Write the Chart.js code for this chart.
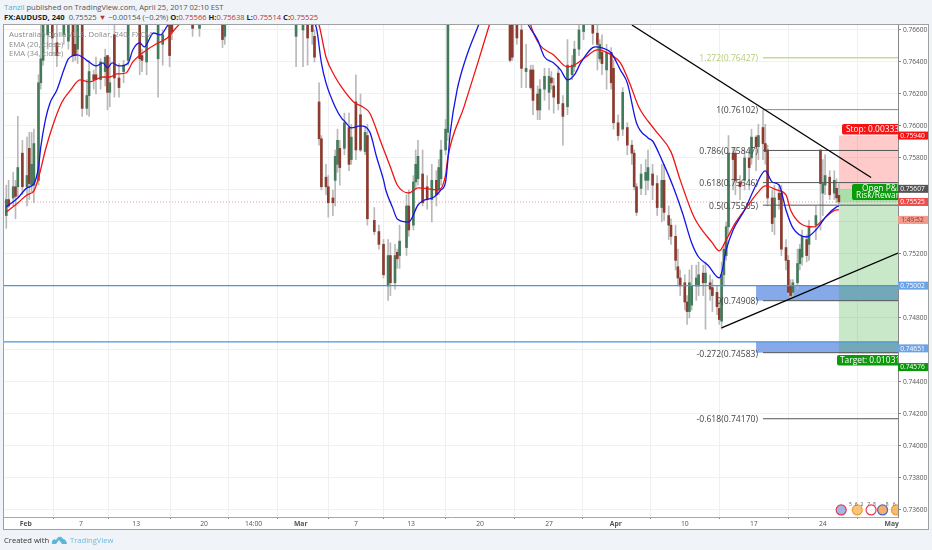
<!DOCTYPE html>
<html>
<head>
<meta charset="utf-8">
<title>AUDUSD 240</title>
<script src="https://cdn.jsdelivr.net/npm/chart.js@4"></script>
<style>
  html, body { margin: 0; padding: 0; background: #f0f3f7; }
  #wrap { position: relative; width: 932px; height: 550px; overflow: hidden; font-family: "Open Sans", "Liberation Sans", sans-serif; }
  #panel { position: absolute; left: 3px; top: 24px; width: 924px; height: 504px; background: #fff; border: 1px solid #a0a0a0; }
  canvas { position: absolute; left: 0; top: 0; }
  .head { position: absolute; left: 4px; white-space: nowrap; font-size: 7.6px; line-height: 10px; color: #555; }
  .head b { color: #222; }
  .head i { font-style: normal; color: #b5343a; }
  #foot { position: absolute; left: 4px; top: 535px; font-size: 7.6px; line-height: 10px; color: #333; white-space: nowrap; }
  #foot span { position: absolute; left: 66px; top: 0; color: #6fb9e0; }
  #foot svg { position: absolute; left: 48px; top: 1px; }
</style>
</head>
<body>
<div id="wrap">
  <div class="head" style="top:2px"><span style="color:#52b0e0">Tanzil</span> published on TradingView.com, April 25, 2017 02:10 EST</div>
  <div class="head" style="top:12px"><b>FX:AUDUSD, 240</b>&nbsp; 0.75525 <i>▼</i> −0.00154 (−0.2%) <b>O:</b><i>0.75566</i> <b>H:</b><i>0.75638</i> <b>L:</b><i>0.75514</i> <b>C:</b><i>0.75525</i></div>
  <div id="panel"></div>
  <canvas id="c" width="932" height="550"></canvas>
  <div id="foot">Created with<svg width="15" height="8" viewBox="0 0 15 8"><path d="M0 8 L0 5 Q2 2 4 4 Q6 0 9 1 Q11 2 11 3 Q14 3 15 8 L10 8 L7 4 L4 8 Z" fill="#5fb4dc"/></svg><span>TradingView</span></div>
</div>
<script>
// 4h candles (bars above the top edge are only partly visible)
const bars = [
  1,2,4,5,6,8,10,11,12,13,15,16,17,19,21,23,26,28,30,31,32,34,36,37,39,40,42,44,45,46,48,50,52,54,59,60,62,67,69,72,73,82,85,95,96,127,130,132,
  134,135,137,138,140,141,143,144,145,146,148,150,151,153,155,157,158,161,163,165,167,168,170,171,172,175,176,178,179,180,182,184,186,188,189,190,192,193,
  220,221,223,225,227,229,230,232,233,235,237,238,239,241,243,245,247,248,250,252,256,258,259,260,262,264,265,267,
  269,271,273,274,275,277,279,280,282,284,286,287,289,290,292,293,294,296,297,298,299,301,302,304,305,307,308,310,311,312,313,314,315,317,318,320,322,324,325,327,328,330,331,332,334,335,337,338,340,341,342,343,345,346,347,349,350,353,355,356,357,359,361,362,363
];
const opens = [
  .7544,.7554,.7555,.7562,.7562,.7583,.7562,.7586,.7563,.7563,.7566,.7627,.7641,.7657,.7667,.7652,.7657,.7653,.7669,.7651,.7648,.7669,.7611,.7619,.7632,.7632,.7629,.7634,.7644,.7621,.7657,.7630,.7634,.7641,.7669,.7644,.7640,.7642,.7651,.7669,.7669,.7669,.7661,.7669,.7656,.7656,.7660,.7669,
  .7669,.7656,.7615,.7592,.7568,.7562,.7555,.7566,.7576,.7586,.7586,.7599,.7579,.7615,.7607,.7584,.7594,.7541,.7534,.7526,.7500,.7519,.7502,.7521,.7519,.7524,.7550,.7538,.7565,.7567,.7570,.7562,.7554,.7566,.7560,.7567,.7585,.7596,
  .7669,.7669,.7669,.7660,.7634,.7635,.7635,.7620,.7610,.7623,.7621,.7630,.7625,.7633,.7614,.7612,.7632,.7637,.7648,.7659,.7669,.7658,.7642,.7646,.7635,.7646,.7636,.7602,
  .7598,.7599,.7588,.7583,.7562,.7561,.7566,.7566,.7570,.7564,.7549,.7566,.7544,.7538,.7531,.7512,.7505,.7502,.7490,.7484,.7488,.7500,.7500,.7508,.7502,.7502,.7499,.7496,.7486,.7478,.7507,.7519,.7537,.7583,.7583,.7565,.7566,.7580,.7580,.7593,.7587,.7599,.7589,.7585,.7555,.7543,.7558,.7558,.7524,.7516,.7500,.7496,.7502,.7514,.7518,.7529,.7526,.7538,.7585,.7558,.7563,.7568,.7558,.7561,.75566
];
const highs = [
  .7563,.7566,.7571,.7566,.7606,.7591,.7593,.7596,.7596,.7598,.7632,.7666,.7673,.7673,.7673,.7669,.7673,.7673,.7673,.7673,.7673,.7673,.7629,.7641,.7635,.7643,.7642,.7648,.7644,.7643,.7669,.7639,.7641,.7673,.7673,.7648,.7673,.7673,.7660,.7673,.7673,.7673,.7673,.7673,.7673,.7673,.7673,.7673,
  .7673,.7660,.7627,.7594,.7576,.7569,.7560,.7585,.7598,.7591,.7608,.7608,.7601,.7632,.7620,.7599,.7601,.7549,.7538,.7529,.7529,.7527,.7526,.7523,.7538,.7557,.7560,.7569,.7585,.7591,.7585,.7569,.7576,.7572,.7579,.7591,.7604,.7673,
  .7673,.7673,.7673,.7673,.7651,.7638,.7638,.7625,.7629,.7636,.7636,.7634,.7630,.7637,.7619,.7654,.7644,.7653,.7666,.7673,.7673,.7666,.7654,.7657,.7651,.7649,.7641,.7607,
  .7624,.7602,.7591,.7585,.7564,.7576,.7579,.7585,.7576,.7569,.7576,.7576,.7550,.7542,.7538,.7523,.7510,.7507,.7494,.7510,.7513,.7513,.7515,.7513,.7515,.7507,.7504,.7500,.7491,.7515,.7526,.7540,.7594,.7586,.7585,.7569,.7585,.7585,.7598,.7594,.7601,.7610,.7601,.7588,.7560,.7563,.7563,.7563,.7529,.7519,.7504,.7504,.7523,.7526,.7535,.7532,.7541,.7550,.7585,.7579,.7582,.7572,.7572,.7567,.75638
];
const lows = [
  .7536,.7549,.7550,.7542,.7555,.7557,.7550,.7554,.7559,.7552,.7563,.7623,.7638,.7648,.7644,.7637,.7651,.7648,.7640,.7641,.7639,.7606,.7607,.7606,.7623,.7620,.7623,.7625,.7610,.7612,.7618,.7618,.7627,.7638,.7632,.7634,.7632,.7618,.7638,.7637,.7654,.7656,.7656,.7649,.7651,.7637,.7637,.7638,
  .7651,.7640,.7588,.7560,.7557,.7543,.7544,.7550,.7571,.7563,.7582,.7572,.7576,.7579,.7584,.7582,.7538,.7532,.7523,.7505,.7491,.7494,.7498,.7511,.7511,.7519,.7531,.7535,.7560,.7563,.7550,.7548,.7540,.7550,.7557,.7563,.7582,.7591,
  .7640,.7641,.7651,.7624,.7624,.7623,.7607,.7604,.7604,.7616,.7610,.7623,.7608,.7610,.7588,.7607,.7629,.7634,.7644,.7654,.7651,.7635,.7640,.7632,.7623,.7623,.7598,.7591,
  .7594,.7582,.7576,.7560,.7544,.7557,.7557,.7560,.7554,.7544,.7540,.7541,.7529,.7526,.7510,.7500,.7494,.7485,.7476,.7480,.7485,.7491,.7494,.7494,.7473,.7491,.7484,.7482,.7476,.7473,.7500,.7516,.7532,.7560,.7557,.7554,.7560,.7560,.7576,.7572,.7579,.7579,.7576,.7550,.7534,.7532,.7548,.7519,.7510,.7494,.7492,.7493,.7498,.7510,.7513,.7515,.7516,.7529,.7535,.7544,.7557,.7554,.7554,.7552,.75514
];
const closes = [
  .7554,.7550,.7562,.7556,.7574,.7562,.7569,.7564,.7576,.7589,.7627,.7642,.7666,.7669,.7655,.7644,.7669,.7663,.7644,.7644,.7669,.7611,.7619,.7634,.7629,.7629,.7640,.7643,.7621,.7627,.7630,.7624,.7638,.7669,.7642,.7641,.7669,.7669,.7657,.7644,.7659,.7661,.7669,.7654,.7669,.7669,.7669,.7655,
  .7659,.7643,.7592,.7562,.7562,.7552,.7552,.7581,.7591,.7574,.7602,.7576,.7593,.7585,.7585,.7596,.7542,.7534,.7526,.7507,.7519,.7502,.7519,.7517,.7528,.7550,.7535,.7565,.7576,.7581,.7552,.7554,.7566,.7557,.7574,.7585,.7598,.7669,
  .7641,.7643,.7655,.7636,.7636,.7624,.7616,.7610,.7623,.7631,.7631,.7627,.7618,.7614,.7606,.7638,.7638,.7648,.7660,.7669,.7658,.7651,.7651,.7639,.7646,.7627,.7602,.7594,
  .7621,.7588,.7583,.7562,.7546,.7570,.7571,.7574,.7563,.7549,.7566,.7546,.7538,.7531,.7516,.7505,.7500,.7490,.7484,.7502,.7500,.7505,.7507,.7502,.7508,.7498,.7494,.7487,.7479,.7507,.7523,.7537,.7583,.7579,.7566,.7562,.7580,.7574,.7593,.7587,.7594,.7589,.7584,.7555,.7539,.7555,.7554,.7523,.7516,.7496,.7494,.7502,.7514,.7523,.7531,.7519,.7537,.7544,.7564,.7564,.7569,.7557,.7566,.7555,.75525
];

// moving averages, sampled along the curves
const ema20Bars = [1,6,10,13,15,16,18,20,23,26,28,32,34,37,40,43,45,47,50,54,56,59,61,65,68,71,75,90,120,130,136,138,140,144,147,148,151,155,159,162,165,166,169,171,176,180,182,187,190,192,193,194,197,201,206,212,220,228,232,235,239,242,245,248,251,257,260,264,268,271,275,280,282,286,291,295,299,302,306,311,312,314,317,322,327,331,334,337,340,343,349,353,358,362,363];
const ema20 = [.75494,.7555,.75613,.75638,.75744,.75869,.76038,.76144,.76225,.7635,.76419,.76444,.76431,.764,.76375,.76394,.76363,.76394,.76375,.76394,.76475,.76519,.76494,.76581,.76569,.76625,.76694,.77,.77,.768,.766,.76394,.76269,.76119,.76044,.76031,.75988,.76,.75963,.75806,.75663,.756,.75488,.75419,.754,.75506,.75531,.75556,.756,.7565,.75788,.75956,.76225,.76431,.76619,.7683,.769,.76631,.76538,.76431,.76394,.7635,.76288,.76319,.764,.76494,.76488,.76456,.7635,.76269,.76019,.75925,.75906,.75788,.75619,.75456,.75269,.75181,.75131,.7505,.75081,.75225,.7535,.75475,.75631,.75719,.7565,.75631,.75475,.75363,.75306,.7535,.75444,.75494,.755];
const ema34Bars = [1,6,10,13,15,18,21,25,29,33,37,43,46,49,53,56,62,67,71,74,78,95,125,132,137,140,144,147,152,156,159,164,168,171,176,180,189,192,193,200,206,211,217,225,229,233,239,245,248,253,258,264,268,272,276,283,290,294,300,308,311,314,318,323,328,331,336,340,342,346,352,356,360,362,363];
const ema34 = [.75463,.75519,.75569,.75594,.75675,.7585,.75994,.76144,.76225,.76288,.76275,.76306,.76306,.76325,.76331,.764,.76475,.76519,.7655,.766,.76663,.7695,.7695,.768,.76631,.76431,.76306,.76238,.7615,.76119,.76081,.75894,.75744,.75631,.75581,.75613,.756,.75694,.75806,.76119,.76394,.76631,.769,.769,.76631,.76506,.76444,.76369,.76381,.76431,.76475,.76444,.76394,.76269,.76119,.75975,.75838,.75663,.75431,.75269,.75219,.75288,.75394,.75494,.75588,.75625,.756,.75569,.75475,.75394,.75369,.75413,.75463,.75475,.75475];

// axes
const xMax = 388.7;
const tickBars = [9.5,33.5,57.5,87,108.5,129,153,177,207,237,266,296,326,356,386];
const tickLabels = ['Feb','7','13','20','14:00','Mar','7','13','20','27','Apr','10','17','24','May'];
const monthLabels = ['Feb','Mar','Apr','May'];
const priceTicks = [.736,.738,.74,.742,.744,.746,.748,.75,.752,.754,.756,.758,.76,.762,.764,.766];

// fibonacci retracement
const fibStartBar = 330;
const fibPrices = [.76427,.76102,.75847,.75646,.75505,.74908,.74583,.7417];
const fibLabels = ['1.272(0.76427)','1(0.76102)','0.786(0.75847)','0.618(0.75646)','0.5(0.75505)','0(0.74908)','-0.272(0.74583)','-0.618(0.74170)'];

// hand drawn lines and zones
const trendDownBars = [273,377], trendDownPrices = [.76631,.75678];
const trendUpBars = [312,xMax], trendUpPrices = [.74738,.75206];
const supportPrices = [.75002,.74651];
const zoneStartBar = 327;
const zoneTops = [.75002,.74651], zoneBottoms = [.74908,.74583];
const tradeStartBar = 363, stopPrice = .7594, entryPrice = .75607, lastPrice = .75525, targetPrice = .74576;

// price tags on the right axis (the last ones are pushed down so they do not overlap)
const tagPrices = [.7594,.75607,.75525,.75413,.75002,.7461,.74493];
const tagTexts = ['0.75940','0.75607','0.75525','1:49:52','0.75002','0.74651','0.74576'];
const tagColors = ['#f51414','#555555','#ea4f4f','#f29a8c','#6da3e6','#6da3e6','#0a960a'];

// economic event flags at the bottom
const eventBars = [364,371,377,382,388];
const eventPrice = .7360;
const eventColors = ['#e8384f','#f0a030','#e8384f','#4a68c8','#f0a030'];
const eventFills = ['rgba(90,140,220,0.6)','rgba(240,160,50,0.6)','rgba(255,255,255,0.3)','rgba(240,140,50,0.7)','rgba(240,160,50,0.7)'];
const eventDigits = ['5','6','2','7','8','8','6'];
const eventDigitBars = [368,370.5,373,376,378.5,384,387];

const green = '#44795a', red = '#8c3b2e';
const isUp = i => closes[i] >= opens[i];

function line(xs, ys, color, width, extra) {
  return Object.assign({
    type: 'line',
    data: xs.map((x, i) => ({ x: x, y: ys[i] })),
    borderColor: color,
    borderWidth: width,
    pointRadius: 0,
    order: 1
  }, extra || {});
}

const datasets = [
  { type: 'bar', data: bars.map((b, i) => ({ x: b, y: [lows[i], highs[i]] })), backgroundColor: '#b9b9b9', barThickness: 1, grouped: false, order: 6 },
  { type: 'bar', data: bars.map((b, i) => ({ x: b, y: [opens[i], closes[i]] })), backgroundColor: bars.map((b, i) => isUp(i) ? green : red), barThickness: 2, grouped: false, order: 5 },
  line([0, xMax], [lastPrice, lastPrice], 'rgba(225,120,120,0.7)', 1, { borderDash: [1, 2], order: 7 }),
  line(ema34Bars, ema34, '#f01414', 1.3, { cubicInterpolationMode: 'monotone', order: 3 }),
  line(ema20Bars, ema20, '#1414e6', 1.3, { cubicInterpolationMode: 'monotone', order: 2 }),
  line(trendDownBars, trendDownPrices, '#000', 1.3),
  line(trendUpBars, trendUpPrices, '#000', 1.3),
  { type: 'scatter', data: eventBars.map(b => ({ x: b, y: eventPrice })), backgroundColor: eventFills, borderColor: eventColors, borderWidth: 1.2, pointRadius: 5, order: 1 }
];
supportPrices.forEach(p => datasets.push(line([0, xMax], [p, p], '#4f94d4', 1.3, { order: 4 })));
fibPrices.forEach((p, i) => datasets.push(line([fibStartBar, xMax], [p, p], i === 0 ? '#c6dc96' : (i === 1 ? '#8a8a8a' : '#555'), i === 0 ? 1.5 : 1, { order: 4 })));

// the layout keeps a margin for the first x label, the plot should start at the frame
const plotLeft = {
  id: 'plotLeft',
  afterLayout(chart) {
    const s = chart.scales.x, a = chart.chartArea;
    s.left = 4;
    s.width = s.right - 4;
    s.configure();
    a.left = 4;
    a.width = a.right - 4;
  }
};

// zones under the candles
const zones = {
  id: 'zones',
  beforeDatasetsDraw(chart) {
    const { ctx, scales: { x, y }, chartArea: a } = chart;
    const box = (x0, p0, p1, c) => {
      ctx.fillStyle = c;
      ctx.fillRect(x0, y.getPixelForValue(p0), a.right - x0, y.getPixelForValue(p1) - y.getPixelForValue(p0));
    };
    const tx = x.getPixelForValue(tradeStartBar), zx = x.getPixelForValue(zoneStartBar);
    zoneTops.forEach((t, i) => box(zx, t, zoneBottoms[i], '#86a9ea'));
    box(tx, stopPrice, entryPrice, 'rgba(250,60,60,0.27)');
    box(tx, entryPrice, lastPrice, 'rgba(30,170,30,0.38)');
    box(tx, lastPrice, targetPrice, 'rgba(60,170,60,0.28)');
  }
};

// labels over the chart
const labels = {
  id: 'labels',
  afterDatasetsDraw(chart) {
    const { ctx, scales: { x, y }, chartArea: a } = chart;
    ctx.save();
    ctx.textBaseline = 'middle';
    ctx.fillStyle = '#8a8a8a';
    ctx.textAlign = 'left';
    ctx.font = '7.8px "Open Sans"';
    ctx.fillText('Australian Dollar/U.S. Dollar, 240, FXCM', 9, 35);
    ctx.fillText('EMA (20, close)', 9, 45);
    ctx.fillText('EMA (34, close)', 9, 54);

    // fib labels, right aligned against the start of the level
    ctx.font = '8.6px "Open Sans"';
    ctx.textAlign = 'right';
    fibLabels.forEach((t, i) => {
      ctx.fillStyle = i === 0 ? '#b4cd78' : '#444';
      const dy = i === 6 ? 2 : 1;
      ctx.fillText(t, x.getPixelForValue(fibStartBar) - 5, y.getPixelForValue(fibPrices[i]) + dy);
    });

    // position tool boxes, cut at the plot edge
    ctx.beginPath();
    ctx.rect(a.left, a.top, a.right - a.left, a.bottom - a.top);
    ctx.clip();
    const tag = (x0, y0, h, c, rows) => {
      ctx.fillStyle = c;
      ctx.beginPath();
      ctx.roundRect(x0, y0, 90, h, 2);
      ctx.fill();
      ctx.fillStyle = '#fff';
      ctx.textAlign = 'left';
      ctx.font = '8.4px "Open Sans"';
      rows.forEach(r => ctx.fillText(r[0], r[1], r[2]));
    };
    tag(842, 124, 10.5, '#f51414', [['Stop: 0.00333', 846, 129.5]]);
    tag(852, 184, 16, '#0a9a0a', [['Open P&L', 862, 188.5], ['Risk/Reward', 856, 196]]);
    tag(837, 355, 10.5, '#0a9a0a', [['Target: 0.01031', 840, 360.5]]);
    ctx.restore();

    ctx.save();
    ctx.textBaseline = 'middle';
    // right axis tags
    ctx.font = '6.6px "Open Sans"';
    ctx.textAlign = 'center';
    tagTexts.forEach((t, i) => {
      const py = y.getPixelForValue(tagPrices[i]);
      ctx.fillStyle = tagColors[i];
      ctx.fillRect(a.right, py - 4, 30, 8);
      ctx.fillStyle = i === 3 ? '#7a3a30' : '#fff';
      ctx.fillText(t, a.right + 14.5, py + 0.3);
    });
    // event flag digits
    ctx.fillStyle = '#555';
    ctx.font = '5px "Open Sans"';
    eventDigits.forEach((d, i) => ctx.fillText(d, x.getPixelForValue(eventDigitBars[i]), y.getPixelForValue(eventPrice) - 5));
    ctx.restore();
  }
};

new Chart(document.getElementById('c'), {
  type: 'bar',
  data: { datasets: datasets },
  plugins: [plotLeft, zones, labels],
  options: {
    responsive: false,
    animation: false,
    layout: { padding: { left: 4, top: 25, right: 4, bottom: 21 } },
    plugins: { legend: { display: false }, tooltip: { enabled: false } },
    scales: {
      x: {
        type: 'linear',
        min: 0,
        max: xMax,
        offset: false,
        afterBuildTicks: s => { s.ticks = tickBars.map(v => ({ value: v })); },
        afterFit: s => { s.height = 12; s.paddingLeft = 0; s.paddingRight = 0; },
        grid: { color: '#edf0f4', tickLength: 2, tickColor: '#888' },
        border: { color: '#a8a8a8', width: 1 },
        ticks: {
          autoSkip: false,
          maxRotation: 0,
          padding: 1,
          color: '#555',
          font: c => ({ family: 'Open Sans', size: 6.8, weight: monthLabels.includes(tickLabels[c.index]) ? 'bold' : 'normal' }),
          callback: (v, i) => tickLabels[i]
        }
      },
      y: {
        position: 'right',
        min: .73556,
        max: .76631,
        afterBuildTicks: s => { s.ticks = priceTicks.map(v => ({ value: v })); },
        afterFit: s => { s.width = 30; s.paddingTop = 0; s.paddingBottom = 0; },
        grid: { color: '#f0f1f3', tickLength: 3, tickColor: '#888' },
        border: { color: '#888', width: 1 },
        ticks: {
          autoSkip: false,
          padding: 2,
          color: '#555',
          font: { family: 'Open Sans', size: 6.6 },
          callback: v => v.toFixed(5)
        }
      }
    }
  }
});
</script>
</body>
</html>
